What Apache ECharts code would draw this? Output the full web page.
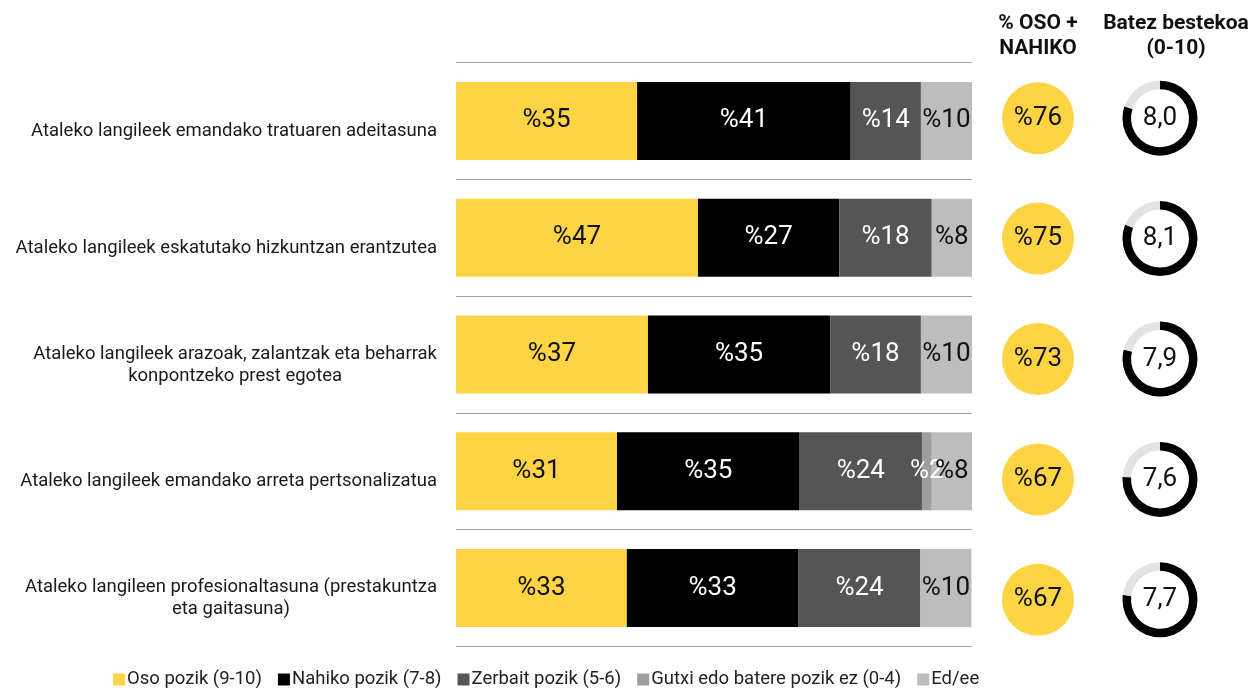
<!doctype html>
<html>
<head>
<meta charset="UTF-8">
<title>Ataleko langileak</title>
<script src="https://cdn.jsdelivr.net/npm/echarts@6/dist/echarts.min.js"></script>
<style>
  html, body { margin: 0; padding: 0; background: #fff; }
  #main { width: 1254px; height: 688px; }
</style>
</head>
<body>
<div id="main"></div>
<script>
// galderak
var categories = [
  'Ataleko langileek emandako tratuaren adeitasuna',
  'Ataleko langileek eskatutako hizkuntzan erantzutea',
  'Ataleko langileek arazoak, zalantzak eta beharrak\nkonpontzeko prest egotea',
  'Ataleko langileek emandako arreta pertsonalizatua',
  'Ataleko langileen profesionaltasuna (prestakuntza\neta gaitasuna)'
];
var seriesNames = ['Oso pozik (9-10)', 'Nahiko pozik (7-8)', 'Zerbait pozik (5-6)', 'Gutxi edo batere pozik ez (0-4)', 'Ed/ee'];
var osoPozik     = [35.1, 46.9, 37.2, 31.2, 33.1];
var nahikoPozik  = [41.4, 27.4, 35.3, 35.4, 33.3];
var zerbaitPozik = [13.6, 17.9, 17.6, 23.7, 23.6];
var gutxiPozik   = [0, 0, 0, 1.9, 0];
var edEe         = [9.9, 7.8, 9.9, 7.8, 9.9];
var osoNahiko    = [76, 75, 73, 67, 67];
var batezBeste   = [8.0, 8.1, 7.9, 7.6, 7.7];
var sideHeaders  = ['% OSO +\nNAHIKO', 'Batez bestekoa\n(0-10)'];

var colors = ['#fdd443', '#000000', '#555555', '#9e9e9e', '#bdbdbd'];
var labelColors = ['#111', '#fff', '#fff', '#fff', '#111'];
var values = [osoPozik, nahikoPozik, zerbaitPozik, gutxiPozik, edEe];
var FONT = 'Roboto, "Noto Sans", sans-serif';

var myChart = echarts.init(document.getElementById('main'));

var barSeries = seriesNames.map(function (name, k) {
  return {
    name: name,
    type: 'bar',
    stack: 'total',
    barWidth: 78,
    itemStyle: { color: colors[k] },
    label: {
      show: true,
      position: 'inside',
      fontFamily: FONT,
      fontSize: 26,
      color: labelColors[k],
      formatter: function (p) { return p.value ? '%' + Math.round(p.value) : ''; }
    },
    data: values[k]
  };
});

var option = {
  animation: false,
  textStyle: { fontFamily: FONT },
  color: colors,
  legend: {
    data: seriesNames,
    left: 108,
    top: 665,
    icon: 'rect',
    itemWidth: 12,
    itemHeight: 12,
    itemGap: 16,
    textStyle: { fontFamily: FONT, fontSize: 18.5, color: '#222', padding: [0, 0, 0, -3] }
  },
  grid: [
    { left: 456, right: 282, top: 62.5, bottom: 41.5 },
    { left: 977, right: 33, top: 58, bottom: 28 }
  ],
  xAxis: [
    { type: 'value', gridIndex: 0, min: 0, max: 100, show: false },
    {
      type: 'category', gridIndex: 1, position: 'top', data: sideHeaders,
      axisLine: { show: false }, axisTick: { show: false }, splitLine: { show: false },
      axisLabel: {
        margin: -3.5, interval: 0,
        formatter: function (v, idx) {
          var key = idx === 1 ? 'h2' : 'h1';
          return v.split('\n').map(function (l) { return '{' + key + '|' + l + '}'; }).join('\n');
        },
        rich: {
          h1: { align: 'center', fontFamily: FONT, fontSize: 21, fontWeight: 'bold', lineHeight: 25, color: '#111' },
          h2: { align: 'center', fontFamily: FONT, fontSize: 21, fontWeight: 'bold', lineHeight: 25, color: '#111',
                padding: [0, 0, 0, 32] }
        }
      }
    }
  ],
  yAxis: [
    {
      type: 'category', gridIndex: 0, inverse: true, data: categories,
      axisLine: { show: false }, axisTick: { show: false },
      splitLine: { show: true, lineStyle: { color: '#a3a3a3', width: 1 } },
      axisLabel: {
        margin: 19,
        interval: 0,
        padding: [21, 0, 0, 0],
        formatter: function (v) {
          return v.split('\n').map(function (l) { return '{c|' + l + '}'; }).join('\n');
        },
        rich: {
          c: { align: 'center', fontFamily: FONT, fontSize: 18.5, lineHeight: 22, color: '#1a1a1a' }
        }
      }
    },
    { type: 'category', gridIndex: 1, inverse: true, data: categories, show: false }
  ],
  series: barSeries.concat([
    {
      name: 'osoNahiko',
      type: 'scatter',
      xAxisIndex: 1,
      yAxisIndex: 1,
      symbolSize: 72,
      itemStyle: { color: '#fdd443', opacity: 1 },
      label: {
        show: true, position: 'inside', fontFamily: FONT, fontSize: 26, color: '#111',
        formatter: function (p) { return '%' + p.value[2]; }
      },
      data: osoNahiko.map(function (v, i) { return [0, i, v]; })
    },
    {
      name: 'batezBeste',
      type: 'custom',
      xAxisIndex: 1,
      yAxisIndex: 1,
      renderItem: function (params, api) {
        var c = api.coord([api.value(0), api.value(1)]);
        var v = api.value(2);
        var start = -Math.PI / 2;
        return {
          type: 'group',
          children: [
            { type: 'sector', shape: { cx: c[0], cy: c[1], r: 37.5, r0: 29, startAngle: 0, endAngle: Math.PI * 2 },
              style: { fill: '#e3e3e3' } },
            { type: 'sector', shape: { cx: c[0], cy: c[1], r: 37.5, r0: 29, startAngle: start,
                endAngle: start + Math.PI * 2 * v / 10, clockwise: true },
              style: { fill: '#000' } },
            { type: 'text', x: c[0], y: c[1],
              style: { text: v.toFixed(1).replace('.', ','), fill: '#111', align: 'center', verticalAlign: 'middle',
                font: '26px ' + FONT } }
          ]
        };
      },
      data: batezBeste.map(function (v, i) { return [1, i, v]; })
    }
  ])
};
myChart.setOption(option);
</script>
</body>
</html>
